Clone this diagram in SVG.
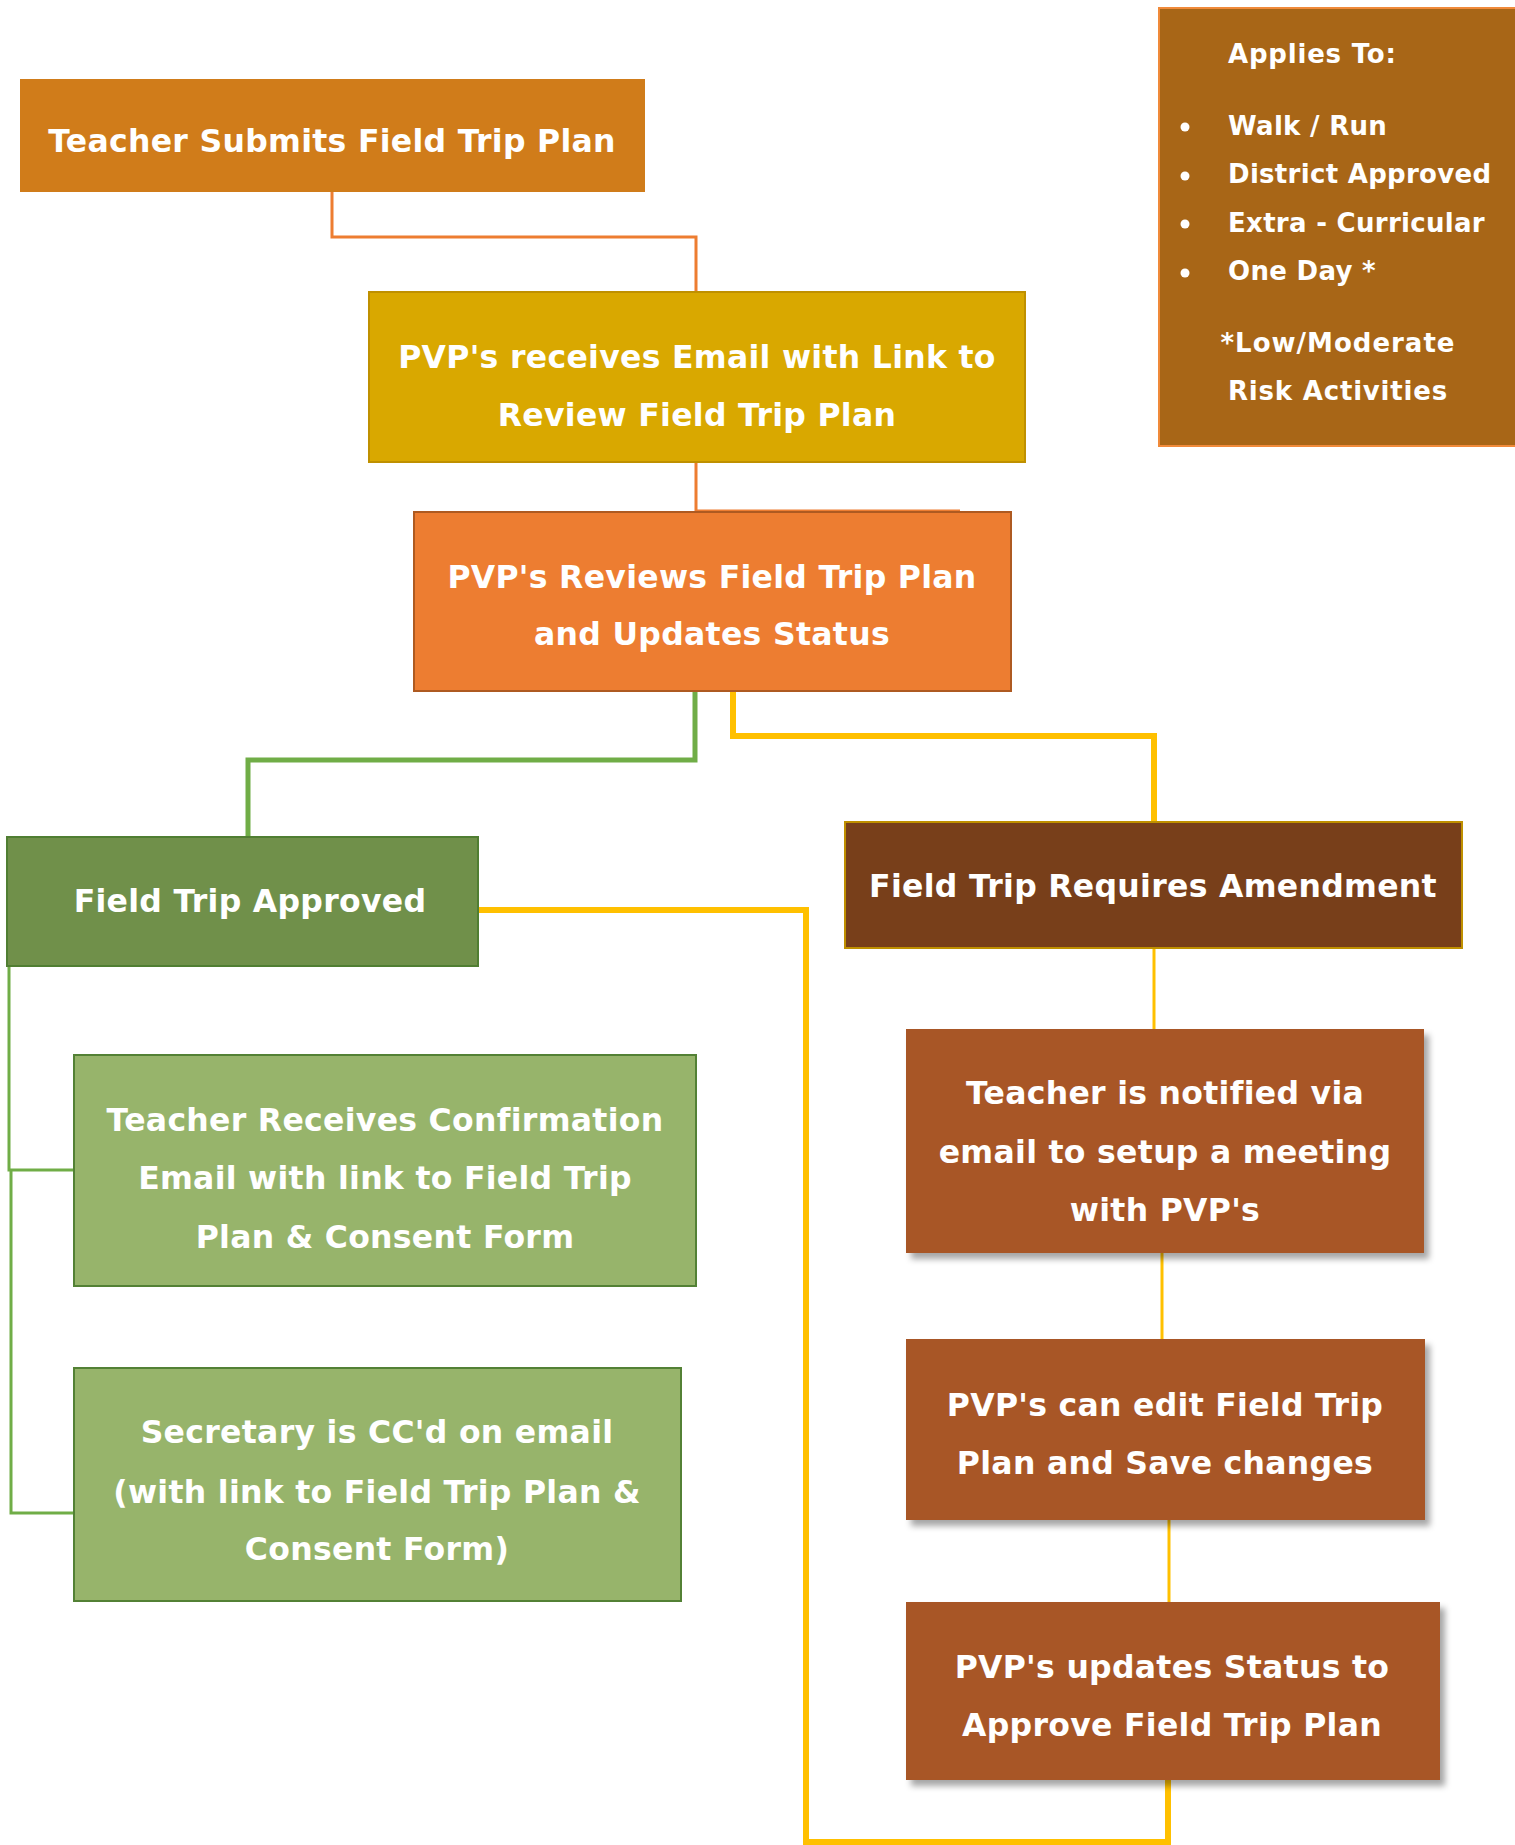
<svg xmlns="http://www.w3.org/2000/svg" width="1515" height="1845" viewBox="0 0 1515 1845">
<style>
.t{font-family:"DejaVu Sans","Verdana",sans-serif;font-weight:bold;fill:#ffffff;text-anchor:middle;font-size:31.5px;letter-spacing:0.3px}
.lg{font-family:"DejaVu Sans","Verdana",sans-serif;font-weight:bold;fill:#ffffff;font-size:26px;letter-spacing:0.3px}
.c{fill:none;stroke-linejoin:miter}
</style>
<defs>
<filter id="sh" x="-10%" y="-10%" width="125%" height="130%">
<feDropShadow dx="5" dy="6" stdDeviation="3" flood-color="#000" flood-opacity="0.35"/>
</filter>
</defs>
<rect x="0" y="0" width="1515" height="1845" fill="#ffffff"/>
<g id="connectors">
<path class="c" d="M332,192 V237 H696 V292" stroke="#ED7D31" stroke-width="3"/>
<path class="c" d="M696,462 V511 H960" stroke="#ED7D31" stroke-width="3"/>
<path class="c" d="M695,692 V760 H248 V837" stroke="#70AD47" stroke-width="5"/>
<path class="c" d="M733,692 V736 H1154 V822" stroke="#FFC000" stroke-width="6"/>
<path class="c" d="M478,910 H806 V1842 H1168 V1780" stroke="#FFC000" stroke-width="6"/>
<path class="c" d="M1154,948 V1029" stroke="#FFC000" stroke-width="3"/>
<path class="c" d="M1162,1253 V1339" stroke="#FFC000" stroke-width="3"/>
<path class="c" d="M1169,1520 V1602" stroke="#FFC000" stroke-width="3"/>
<path class="c" d="M9,966 V1170 H73" stroke="#70AD47" stroke-width="3"/>
<path class="c" d="M11,1170 V1513 H73" stroke="#70AD47" stroke-width="3"/>
</g>
<g id="legend">
<rect x="1159" y="8" width="360" height="438" fill="#A86617" stroke="#F08A3A" stroke-width="2"/>
<text class="lg" x="1228" y="63" style="letter-spacing:0.8px">Applies To:</text>
<circle cx="1185" cy="127" r="4.5" fill="#fff"/>
<circle cx="1185" cy="176" r="4.5" fill="#fff"/>
<circle cx="1185" cy="224" r="4.5" fill="#fff"/>
<circle cx="1185" cy="273" r="4.5" fill="#fff"/>
<text class="lg" x="1228" y="135">Walk / Run</text>
<text class="lg" x="1228" y="183">District Approved</text>
<text class="lg" x="1228" y="232">Extra - Curricular</text>
<text class="lg" x="1228" y="280">One Day *</text>
<text class="lg" x="1338" y="352" text-anchor="middle" style="letter-spacing:1px">*Low/Moderate</text>
<text class="lg" x="1338" y="400" text-anchor="middle" style="letter-spacing:0.8px">Risk Activities</text>
</g>
<g id="n1">
<rect x="20" y="79" width="625" height="113" fill="#D07C1A"/>
<text class="t" x="332" y="152">Teacher Submits Field Trip Plan</text>
</g>
<g id="n2">
<rect x="369" y="292" width="656" height="170" fill="#D9A800" stroke="#BF9000" stroke-width="2"/>
<text class="t" x="697" y="368">PVP's receives Email with Link to</text>
<text class="t" x="697" y="426">Review Field Trip Plan</text>
</g>
<g id="n3">
<rect x="414" y="512" width="597" height="179" fill="#ED7D31" stroke="#AE5A21" stroke-width="2"/>
<text class="t" x="712" y="588">PVP's Reviews Field Trip Plan</text>
<text class="t" x="712" y="645">and Updates Status</text>
</g>
<g id="n4">
<rect x="7" y="837" width="471" height="129" fill="#70904A" stroke="#507E32" stroke-width="2"/>
<text class="t" x="250" y="912">Field Trip Approved</text>
</g>
<g id="n5">
<rect x="845" y="822" width="617" height="126" fill="#783F1A" stroke="#BF9000" stroke-width="2"/>
<text class="t" x="1153" y="897">Field Trip Requires Amendment</text>
</g>
<g id="n6">
<rect x="74" y="1055" width="622" height="231" fill="#97B46B" stroke="#538135" stroke-width="2"/>
<text class="t" x="385" y="1131">Teacher Receives Confirmation</text>
<text class="t" x="385" y="1189">Email with link to Field Trip</text>
<text class="t" x="385" y="1248">Plan &amp; Consent Form</text>
</g>
<g id="n7">
<rect x="74" y="1368" width="607" height="233" fill="#97B46B" stroke="#538135" stroke-width="2"/>
<text class="t" x="377" y="1443">Secretary is CC'd on email</text>
<text class="t" x="377" y="1503">(with link to Field Trip Plan &amp;</text>
<text class="t" x="377" y="1560">Consent Form)</text>
</g>
<g id="n8">
<rect x="906" y="1029" width="518" height="224" fill="#A85726" filter="url(#sh)"/>
<text class="t" x="1165" y="1104">Teacher is notified via</text>
<text class="t" x="1165" y="1163">email to setup a meeting</text>
<text class="t" x="1165" y="1221">with PVP's</text>
</g>
<g id="n9">
<rect x="906" y="1339" width="519" height="181" fill="#A85726" filter="url(#sh)"/>
<text class="t" x="1165" y="1416">PVP's can edit Field Trip</text>
<text class="t" x="1165" y="1474">Plan and Save changes</text>
</g>
<g id="n10">
<rect x="906" y="1602" width="534" height="178" fill="#A85726" filter="url(#sh)"/>
<text class="t" x="1172" y="1678">PVP's updates Status to</text>
<text class="t" x="1172" y="1736">Approve Field Trip Plan</text>
</g>
</svg>
